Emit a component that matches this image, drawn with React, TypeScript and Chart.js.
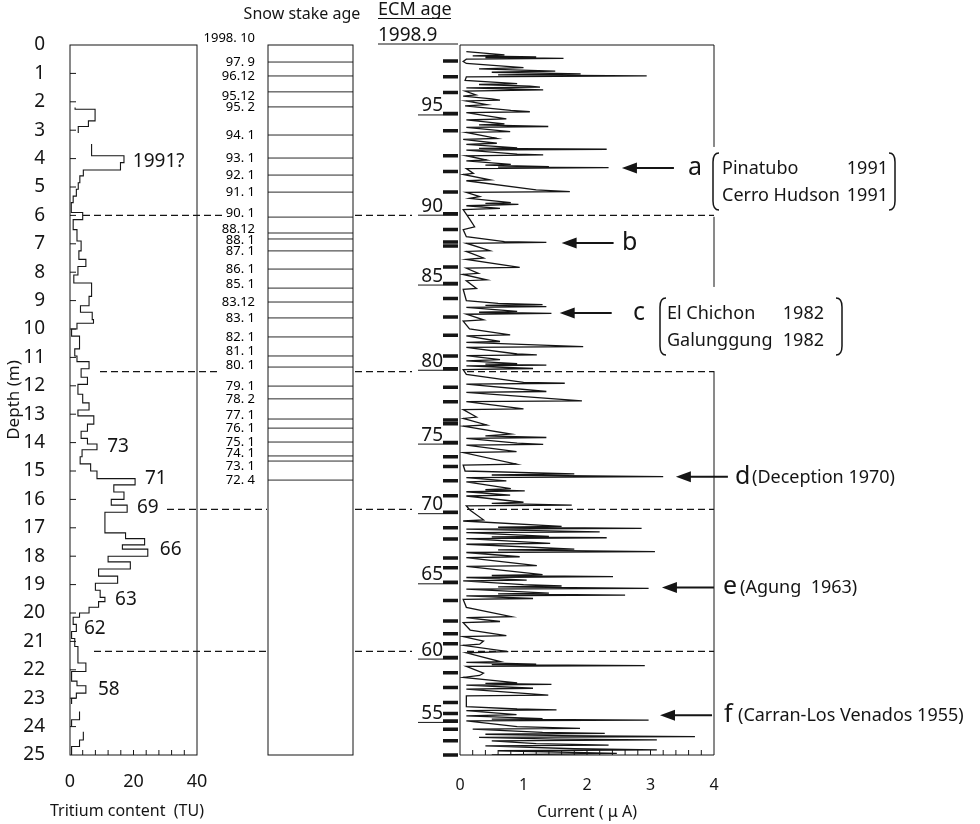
import React, { useEffect, useRef } from "react";
import { Chart, registerables } from "chart.js";
Chart.register(...registerables);

const FONT = '"Noto Sans", "DejaVu Sans", Arial, sans-serif';
const INK = "#151515";

// ---------------- data ----------------
// Tritium profile: depth intervals (m) and tritium content (TU)
const tritiumFrom = [
  2.2, 2.26, 2.67, 2.87,
  3.49, 3.9, 4.14, 4.4, 4.61, 4.85, 5.08, 5.32, 5.55, 5.9, 6.15, 6.5, 6.9, 7.25, 7.55, 7.8,
  8.1, 8.38, 8.85, 9.18, 9.41, 9.67, 9.8, 10.0, 10.25, 10.7, 10.95, 11.15, 11.4, 11.7, 11.95,
  12.3, 12.6, 12.85, 13.06, 13.35, 13.6, 13.85, 14.05, 14.25, 14.5, 14.75, 15.0, 15.27, 15.49,
  15.74, 16.0, 16.2, 16.45, 17.18, 17.38, 17.6, 17.75, 18.0, 18.2, 18.45, 18.7, 18.95, 19.2,
  19.45, 19.6, 19.8, 20.0, 20.15, 20.4, 20.65, 20.9, 21.18, 21.76, 22.06, 22.4, 22.56, 22.82, 23.0,
  23.47, 23.76,
  24.18, 24.47, 24.7,
];
const tritiumTo = [
  2.26, 2.67, 2.87, 3.1,
  3.9, 4.14, 4.4, 4.61, 4.85, 5.08, 5.32, 5.55, 5.9, 6.15, 6.5, 6.9, 7.25, 7.55, 7.8, 8.1,
  8.38, 8.85, 9.18, 9.41, 9.67, 9.8, 10.0, 10.25, 10.7, 10.95, 11.15, 11.4, 11.7, 11.95, 12.3,
  12.6, 12.85, 13.06, 13.35, 13.6, 13.85, 14.05, 14.25, 14.5, 14.75, 15.0, 15.27, 15.49, 15.74,
  16.0, 16.2, 16.45, 17.18, 17.38, 17.6, 17.75, 18.0, 18.2, 18.45, 18.7, 18.95, 19.2, 19.45,
  19.6, 19.8, 20.0, 20.15, 20.4, 20.65, 20.9, 21.18, 21.76, 22.06, 22.4, 22.56, 22.82, 23.0, 23.2,
  23.76, 24.0,
  24.47, 24.7, 25.0,
];
const tritiumTU = [
  1.6, 7.9, 5.8, 2.6,
  6.8, 17, 15.9, 4.2, 3.1, 2.6, 2.0, 1.0, 0.4, 4.0, 1.0, 2.2, 3.5, 2.8, 5.0, 2.5,
  1.2, 6.8, 6.0, 3.3, 7.0, 7.4, 2.2, 0.5, 3.0, 1.5, 2.2, 6.0, 3.5, 5.5, 2.5,
  4.0, 6.0, 2.5, 7.5, 5.5, 3.5, 5.5, 8.5, 3.8, 3.2, 6.5, 8.5, 20.5, 13.8,
  17, 13, 18, 11, 17.5, 23.5, 16.5, 24.5, 12, 19, 9, 15, 8, 9.5,
  11, 9, 6, 3, 1.0, 2.0, 0.5, 1.5, 2.5, 5.0, 0.5, 2.2, 5.0, 2.0, 0.5,
  3.0, 0.5,
  4.2, 3.0, 0.5,
];
const tritiumLabelText = ["1991?", "73", "71", "69", "66", "63", "62", "58"];
const tritiumLabelTU = [19.8, 11.7, 23.6, 21.1, 28.3, 14.2, 4.4, 8.8];
const tritiumLabelDepth = [4.12, 14.15, 15.28, 16.3, 17.75, 19.54, 20.56, 22.7];

// Snow stake ages and depths (m)
const stakeLabels = [
  "1998. 10", "97. 9", "96.12", "95.12", "95. 2", "94. 1", "93. 1", "92. 1", "91. 1", "90. 1",
  "88.12", "88. 1", "87. 1", "86. 1", "85. 1", "83.12", "83. 1", "82. 1", "81. 1", "80. 1",
  "79. 1", "78. 2", "77. 1", "76. 1", "75. 1", "74. 1", "73. 1", "72. 4",
];
const stakeDepth = [
  0, 0.6, 1.09, 1.65, 2.18, 3.17, 3.98, 4.58, 5.18, 6.06,
  6.62, 6.83, 7.25, 7.89, 8.56, 9.05, 9.61, 10.28, 10.95, 11.34,
  12.01, 12.46, 13.17, 13.49, 13.98, 14.47, 14.65, 15.32,
];

// ECM current profile: depth (m) and current (µA)
const ecmDepth = [
  0.23, 0.35, 0.38, 0.42, 0.44, 0.47, 0.5, 0.58, 0.65, 0.8,
  0.84, 0.92, 0.96, 1.02, 1.05, 1.09, 1.12, 1.25, 1.36, 1.39,
  1.45, 1.48, 1.51, 1.55, 1.58, 1.62, 1.76, 1.8, 1.9, 1.94,
  1.97, 2.1, 2.14, 2.3, 2.35, 2.38, 2.6, 2.64, 2.78, 2.81,
  2.87, 2.9, 3.05, 3.08, 3.29, 3.32, 3.46, 3.5, 3.62, 3.64,
  3.67, 3.7, 3.84, 3.87, 3.9, 4.05, 4.08, 4.2, 4.23, 4.28,
  4.3, 4.32, 4.35, 4.52, 4.56, 4.75, 4.78, 5.1, 5.16, 5.19,
  5.34, 5.4, 5.55, 5.58, 5.61, 5.66, 5.75, 5.8, 6.16, 6.4,
  6.5, 6.75, 6.92, 6.95, 6.98, 7.24, 7.27, 7.5, 7.55, 7.83,
  7.86, 8.04, 8.08, 8.27, 8.3, 8.57, 8.6, 9.0, 9.1, 9.14,
  9.17, 9.21, 9.24, 9.38, 9.41, 9.45, 9.48, 9.68, 9.72, 10.0,
  10.21, 10.24, 10.44, 10.47, 10.62, 10.65, 10.88, 10.91, 10.94, 11.08,
  11.12, 11.22, 11.24, 11.27, 11.3, 11.39, 11.43, 11.6, 11.88, 11.91,
  11.94, 12.2, 12.23, 12.53, 12.56, 12.81, 12.84, 13.1, 13.15, 13.38,
  13.42, 13.7, 13.76, 13.82, 13.85, 14.02, 14.06, 14.09, 14.32, 14.35,
  14.76, 14.79, 15.0, 15.1, 15.14, 15.2, 15.23, 15.35, 15.38, 15.62,
  15.66, 15.7, 15.73, 15.85, 15.88, 16.1, 16.14, 16.2, 16.23, 16.38,
  16.72, 16.76, 16.95, 16.98, 17.02, 17.05, 17.1, 17.14, 17.17, 17.3,
  17.32, 17.35, 17.38, 17.55, 17.58, 17.75, 17.78, 17.84, 17.87, 18.02,
  18.05, 18.33, 18.36, 18.65, 18.68, 18.72, 18.75, 18.84, 18.87, 19.0,
  19.05, 19.08, 19.13, 19.16, 19.3, 19.33, 19.37, 19.4, 19.49, 19.52,
  19.8, 20.13, 20.16, 20.3, 20.34, 20.6, 20.8, 20.83, 20.99, 21.1,
  21.14, 21.36, 21.4, 21.71, 21.74, 21.8, 21.82, 21.85, 21.88, 22.12,
  22.2, 22.27, 22.46, 22.48, 22.51, 22.54, 22.65, 22.68, 22.89, 22.92,
  23.3, 23.38, 23.41, 23.44, 23.58, 23.62, 23.72, 23.74, 23.77, 23.8,
  24.0, 24.06, 24.09, 24.2, 24.24, 24.27, 24.32, 24.35, 24.38, 24.44,
  24.47, 24.5, 24.6, 24.65, 24.68, 24.78, 24.82, 24.85, 24.94, 25.0,
];
const ecmCurrent = [
  0.1, 0.7, 0.2, 1.2, 0.4, 1.63, 0.1, 0.05, 0.1, 1.0,
  0.3, 1.5, 0.5, 1.9, 0.6, 2.94, 0.1, 0.08, 0.9, 0.3,
  1.1, 1.26, 0.1, 0.8, 1.31, 0.08, 0.25, 0.05, 0.5, 0.63,
  0.1, 0.42, 0.08, 0.8, 1.1, 0.1, 0.73, 0.1, 0.7, 0.3,
  1.39, 0.1, 0.79, 0.1, 0.58, 0.05, 0.58, 0.1, 0.9, 0.3,
  2.31, 0.1, 0.9, 1.31, 0.1, 0.42, 0.1, 0.8, 0.4, 1.4,
  0.6, 2.34, 0.1, 0.21, 0.05, 0.47, 0.1, 1.2, 1.73, 0.1,
  0.31, 0.15, 0.8, 0.4, 0.92, 0.1, 0.63, 0.05, 0.16, 0.23,
  0.05, 0.1, 0.7, 1.36, 0.1, 0.47, 0.1, 0.37, 0.1, 0.94,
  0.1, 0.29, 0.05, 0.42, 0.1, 0.26, 0.05, 0.1, 0.6, 1.3,
  0.4, 1.36, 0.1, 0.9, 0.3, 1.44, 0.1, 0.37, 0.05, 0.15,
  0.79, 0.1, 0.63, 0.1, 1.94, 0.1, 0.9, 1.21, 0.1, 0.63,
  0.1, 0.9, 0.4, 1.36, 0.1, 1.15, 0.05, 0.1, 1.0, 1.65,
  0.1, 1.36, 0.1, 1.92, 0.1, 1.0, 0.05, 0.26, 0.05, 0.42,
  0.05, 0.8, 0.4, 1.36, 0.1, 0.9, 1.31, 0.1, 0.89, 0.05,
  0.89, 0.05, 0.08, 1.8, 0.5, 3.2, 0.1, 0.73, 0.1, 0.8,
  0.4, 1.02, 0.1, 0.79, 0.1, 1.0, 0.5, 1.76, 0.1, 0.16,
  0.37, 0.05, 1.6, 0.6, 2.86, 0.1, 1.2, 2.2, 0.1, 1.4,
  0.5, 2.31, 0.1, 1.42, 0.1, 1.8, 0.6, 3.07, 0.1, 0.94,
  0.1, 1.21, 0.1, 1.3, 0.5, 2.41, 0.1, 1.05, 0.05, 1.0,
  1.6, 0.6, 2.97, 0.1, 1.4, 0.6, 2.6, 0.1, 1.15, 0.05,
  0.1, 0.81, 0.1, 0.63, 0.05, 0.16, 0.73, 0.05, 0.37, 0.31,
  0.05, 0.76, 0.1, 0.63, 0.1, 1.2, 0.5, 2.91, 0.1, 0.37,
  0.31, 0.05, 0.9, 0.4, 1.44, 0.1, 1.15, 0.1, 1.39, 0.1,
  0.1, 0.9, 1.52, 0.1, 0.89, 0.1, 1.3, 0.5, 2.97, 0.1,
  0.9, 1.89, 0.2, 1.3, 2.28, 0.4, 1.6, 3.7, 0.3, 1.5,
  3.1, 0.5, 1.2, 2.34, 0.4, 1.8, 3.1, 0.6, 2.47, 0.5,
];

// ECM annual layers (year, depth m)
const ecmYears = [
  98, 97, 96, 95, 94, 93, 92, 91, 90, 89, 88, 87, 86, 85, 84, 83, 82, 81, 80, 79,
  78, 77, 76, 75, 74, 73, 72, 71, 70, 69, 68, 67, 66, 65, 64, 63, 62, 61, 60, 59,
  58, 57, 56, 55, 54, 53, 52,
];
const ecmYearDepth = [
  0.56, 1.12, 1.67, 2.41, 3.02, 3.9, 4.45, 5.18, 5.94, 6.5, 6.94, 7.08, 7.82, 8.4, 8.93, 9.58,
  10.22, 10.95, 11.4, 12.05, 12.56, 13.2, 13.34, 14.0, 14.5, 14.84, 15.34, 15.87, 16.45, 17.0,
  17.39, 18.06, 18.41, 18.92, 19.56, 20.28, 20.73, 21.08, 21.57, 22.1, 22.62, 23.15, 23.54,
  23.8, 24.09, 24.5, 25.0,
];

// Correlation (dashed) depths, m
const markerDepth = [6.0, 11.5, 16.35, 21.35];

// Volcanic events
const eventLetter = ["a", "b", "c", "d", "e", "f"];
const eventDepth = [4.33, 6.97, 9.44, 15.2, 19.1, 23.6];
const eventTip = [2.55, 1.6, 1.57, 3.4, 3.18, 3.15];
const eventNote = ["", "", "", "(Deception 1970)", "(Agung  1963)", "(Carran-Los Venados 1955)"];
const eventNamesA = ["Pinatubo", "Cerro Hudson"];
const eventYearsA = ["1991", "1991"];
const eventNamesC = ["El Chichon", "Galunggung"];
const eventYearsC = ["1982", "1982"];

// ---------------- layout constants ----------------
const W = 980;
const H = 824;
const TOP = 45;
const BOTTOM = 755;

const f = (size: number) => `${size}px ${FONT}`;

function tritiumPoints() {
  const pts: any[] = [];
  for (let i = 0; i < tritiumFrom.length; i++) {
    if (i > 0 && Math.abs(tritiumFrom[i] - tritiumTo[i - 1]) > 1e-6) {
      pts.push({ x: tritiumTU[i - 1], y: tritiumTo[i - 1] });
      pts.push({ x: null, y: null });
    }
    pts.push({ x: tritiumTU[i], y: tritiumFrom[i] });
  }
  const n = tritiumFrom.length - 1;
  pts.push({ x: tritiumTU[n], y: tritiumTo[n] });
  return pts;
}

function stakePoints() {
  const pts: any[] = [];
  stakeDepth.forEach((d, i) => {
    if (i === 0) return;
    pts.push({ x: 0, y: d }, { x: 1, y: d }, { x: null, y: null });
  });
  return pts;
}

function dashed(ctx: CanvasRenderingContext2D, x0: number, x1: number, y: number) {
  ctx.beginPath();
  ctx.moveTo(x0, y);
  ctx.lineTo(x1, y);
  ctx.stroke();
}

const tritiumDecor = {
  id: "tritiumDecor",
  afterDraw(chart: any) {
    const { ctx, chartArea: ca } = chart;
    const x = chart.scales.x;
    const y = chart.scales.y;
    ctx.save();
    ctx.strokeStyle = INK;
    ctx.lineWidth = 1;
    ctx.strokeRect(ca.left, ca.top, ca.right - ca.left, ca.bottom - ca.top);
    ctx.beginPath();
    for (let d = 1; d < 25; d++) {
      const py = y.getPixelForValue(d);
      ctx.moveTo(ca.left, py);
      ctx.lineTo(ca.left + 6, py);
    }
    for (let v = 4; v < 40; v += 4) {
      const px = x.getPixelForValue(v);
      ctx.moveTo(px, ca.bottom);
      ctx.lineTo(px, ca.bottom - 5);
    }
    ctx.stroke();
    ctx.fillStyle = INK;
    ctx.font = f(19);
    ctx.textAlign = "left";
    ctx.textBaseline = "middle";
    tritiumLabelText.forEach((t, i) => {
      ctx.fillText(t, x.getPixelForValue(tritiumLabelTU[i]), y.getPixelForValue(tritiumLabelDepth[i]));
    });
    // axis title (drawn here so it is not squeezed to the narrow axis width)
    ctx.font = f(16);
    ctx.textAlign = "center";
    ctx.fillText("Tritium content  (TU)", 127, 811);
    // dashed correlation lines (left part)
    const starts = [83, 100, 167, 94];
    const ends = [222, 218, 267, 267];
    ctx.setLineDash([7, 4]);
    ctx.lineWidth = 1.3;
    markerDepth.forEach((d, i) => dashed(ctx, starts[i], ends[i], y.getPixelForValue(d)));
    ctx.restore();
  },
};

const STAKE_NUDGE: Record<number, number> = {
  0: -7, 3: 4, 9: -4, 10: -4, 11: 1, 14: -4, 18: -5, 19: -2, 22: -4, 25: -3, 26: 5,
};

const stakeDecor = {
  id: "stakeDecor",
  afterDraw(chart: any) {
    const { ctx, chartArea: ca } = chart;
    const y = chart.scales.y;
    ctx.save();
    ctx.strokeStyle = INK;
    ctx.lineWidth = 1;
    ctx.strokeRect(ca.left, ca.top, ca.right - ca.left, ca.bottom - ca.top);
    ctx.fillStyle = "#000";
    ctx.font = f(13);
    ctx.textAlign = "right";
    ctx.textBaseline = "middle";
    stakeLabels.forEach((t, i) => {
      const py = y.getPixelForValue(stakeDepth[i]) + (STAKE_NUDGE[i] || 0);
      ctx.fillText(t, ca.left - 13, py);
    });
    ctx.fillStyle = INK;
    ctx.font = f(16);
    ctx.textAlign = "center";
    ctx.textBaseline = "alphabetic";
    ctx.fillText("Snow stake age", 302, 19);
    ctx.restore();
  },
};

function bracket(ctx: CanvasRenderingContext2D, x: number, top: number, bottom: number, dir: number) {
  ctx.beginPath();
  ctx.moveTo(x + 6 * dir, top);
  ctx.quadraticCurveTo(x, top, x, top + 9);
  ctx.lineTo(x, bottom - 9);
  ctx.quadraticCurveTo(x, bottom, x + 6 * dir, bottom);
  ctx.stroke();
}

const ecmDecor = {
  id: "ecmDecor",
  afterDraw(chart: any) {
    const { ctx, chartArea: ca } = chart;
    const x = chart.scales.x;
    const y = chart.scales.y;
    ctx.save();
    ctx.strokeStyle = INK;
    ctx.fillStyle = INK;
    ctx.lineWidth = 1;
    // frame with gaps on right side
    ctx.beginPath();
    ctx.moveTo(ca.right, ca.top);
    ctx.lineTo(ca.left, ca.top);
    ctx.lineTo(ca.left, ca.bottom);
    ctx.lineTo(ca.right, ca.bottom);
    const gaps = [
      [3.59, 6.05],
      [8.52, 11.48],
    ];
    ctx.moveTo(ca.right, ca.bottom);
    for (let g = gaps.length - 1; g >= 0; g--) {
      ctx.lineTo(ca.right, y.getPixelForValue(gaps[g][1]));
      ctx.moveTo(ca.right, y.getPixelForValue(gaps[g][0]));
    }
    ctx.lineTo(ca.right, ca.top);
    ctx.stroke();
    // inner bottom ticks
    ctx.beginPath();
    for (let i = 1; i < 20; i++) {
      const px = x.getPixelForValue(i * 0.2);
      ctx.moveTo(px, ca.bottom);
      ctx.lineTo(px, ca.bottom - 5);
    }
    ctx.stroke();
    // ECM age ticks
    ctx.lineWidth = 3.5;
    ctx.beginPath();
    ecmYearDepth.forEach((d) => {
      const py = y.getPixelForValue(d);
      ctx.moveTo(ca.left - 17, py);
      ctx.lineTo(ca.left - 2, py);
    });
    ctx.stroke();
    ctx.lineWidth = 1;
    ctx.font = f(19);
    ctx.textAlign = "right";
    ctx.textBaseline = "alphabetic";
    ecmYears.forEach((yr, i) => {
      if (yr % 5 !== 0) return;
      const py = y.getPixelForValue(ecmYearDepth[i]);
      ctx.fillText(String(yr), ca.left - 17, py - 2);
      ctx.beginPath();
      ctx.moveTo(ca.left - 42, py + 1.5);
      ctx.lineTo(ca.left - 2, py + 1.5);
      ctx.stroke();
    });
    // headers
    ctx.textAlign = "left";
    ctx.font = f(18);
    ctx.fillText("ECM age", 378, 15);
    ctx.beginPath();
    ctx.moveTo(378, 18.5);
    ctx.lineTo(451, 18.5);
    ctx.stroke();
    ctx.font = f(19);
    ctx.fillText("1998.9", 378, ca.top - 4);
    ctx.beginPath();
    ctx.moveTo(378, ca.top - 1);
    ctx.lineTo(ca.left - 2, ca.top - 1);
    ctx.stroke();
    // dashed correlation lines (right part)
    ctx.setLineDash([7, 4]);
    ctx.lineWidth = 1.3;
    markerDepth.forEach((d) => {
      const py = y.getPixelForValue(d);
      dashed(ctx, 355, 412, py);
      dashed(ctx, 467, ca.right, py);
    });
    ctx.setLineDash([]);
    // arrows
    const tailLen = 50;
    const letterX = [688, 622, 633, 735, 723, 724];
    const noteX = [0, 0, 0, 752, 740, 738];
    eventLetter.forEach((L, i) => {
      const py = y.getPixelForValue(eventDepth[i]);
      const tip = x.getPixelForValue(eventTip[i]);
      ctx.lineWidth = 2;
      ctx.beginPath();
      ctx.moveTo(tip + 10, py);
      ctx.lineTo(tip + tailLen + 2, py);
      ctx.stroke();
      ctx.beginPath();
      ctx.moveTo(tip, py);
      ctx.lineTo(tip + 15, py - 5.5);
      ctx.lineTo(tip + 15, py + 5.5);
      ctx.closePath();
      ctx.fill();
      ctx.font = f(25);
      ctx.textAlign = "left";
      ctx.textBaseline = "alphabetic";
      ctx.fillText(L, letterX[i], py + 7);
      if (eventNote[i]) {
        ctx.font = f(18);
        ctx.fillText(eventNote[i], noteX[i], py + 6);
      }
    });
    // bracketed groups
    ctx.lineWidth = 1.5;
    ctx.font = f(18);
    const yA = y.getPixelForValue(eventDepth[0]);
    bracket(ctx, 713, yA - 15, yA + 42, 1);
    bracket(ctx, 895, yA - 15, yA + 42, -1);
    eventNamesA.forEach((n, k) => {
      ctx.textAlign = "left";
      ctx.fillText(n, 722, yA + 6 + k * 27);
      ctx.textAlign = "right";
      ctx.fillText(eventYearsA[k], 888, yA + 6 + k * 27);
    });
    const yC = y.getPixelForValue(eventDepth[2]);
    bracket(ctx, 660, yC - 15, yC + 42, 1);
    bracket(ctx, 842, yC - 15, yC + 42, -1);
    eventNamesC.forEach((n, k) => {
      ctx.textAlign = "left";
      ctx.fillText(n, 667, yC + 6 + k * 27);
      ctx.textAlign = "right";
      ctx.fillText(eventYearsC[k], 824, yC + 6 + k * 27);
    });
    ctx.restore();
  },
};

const baseOptions = (padding: any) => ({
  responsive: false,
  maintainAspectRatio: false,
  animation: false as const,
  events: [] as any[],
  layout: { padding },
  plugins: { legend: { display: false }, tooltip: { enabled: false }, title: { display: false } },
});

export default function App() {
  const refA = useRef<HTMLCanvasElement>(null);
  const refB = useRef<HTMLCanvasElement>(null);
  const refC = useRef<HTMLCanvasElement>(null);

  useEffect(() => {
    Chart.defaults.font.family = FONT;
    Chart.defaults.color = INK;

    const chartA = new Chart(refA.current as HTMLCanvasElement, {
      type: "line",
      data: {
        datasets: [
          {
            data: tritiumPoints(),
            borderColor: INK,
            borderWidth: 1.1,
            pointRadius: 0,
            stepped: "after",
            fill: false,
            spanGaps: false,
          } as any,
        ],
      },
      options: {
        ...baseOptions({ left: 0, top: TOP, right: W - 197, bottom: 0 }),
        scales: {
          x: {
            type: "linear",
            position: "bottom",
            min: 0,
            max: 40,
            afterFit: (s: any) => {
              s.height = H - BOTTOM;
            },
            grid: { display: false, drawTicks: false },
            border: { display: false },
            ticks: { stepSize: 20, padding: 16, font: { size: 18 }, color: INK },
            title: { display: false },
          },
          y: {
            type: "linear",
            position: "left",
            min: 0,
            max: 25,
            reverse: true,
            afterFit: (s: any) => {
              s.width = 70;
            },
            grid: { display: false, drawTicks: false },
            border: { display: false },
            ticks: { stepSize: 1, padding: 25, autoSkip: false, font: { size: 19 }, color: INK },
            title: {
              display: true,
              text: "Depth (m)",
              font: { size: 17 },
              color: INK,
              padding: { top: 4, bottom: 0 },
            },
          },
        },
      } as any,
      plugins: [tritiumDecor],
    });

    const chartB = new Chart(refB.current as HTMLCanvasElement, {
      type: "line",
      data: {
        datasets: [
          {
            data: stakePoints(),
            borderColor: "#2a2a2a",
            borderWidth: 1,
            pointRadius: 0,
            fill: false,
            spanGaps: false,
          } as any,
        ],
      },
      options: {
        ...baseOptions({ left: 268, top: TOP, right: W - 353, bottom: H - BOTTOM }),
        scales: {
          x: { type: "linear", min: 0, max: 1, display: false },
          y: { type: "linear", min: 0, max: 25, reverse: true, display: false },
        },
      } as any,
      plugins: [stakeDecor],
    });

    const chartC = new Chart(refC.current as HTMLCanvasElement, {
      type: "line",
      data: {
        datasets: [
          {
            data: ecmDepth.map((d, i) => ({ x: ecmCurrent[i], y: d })),
            borderColor: INK,
            borderWidth: 1.3,
            pointRadius: 0,
            fill: false,
            tension: 0,
          } as any,
        ],
      },
      options: {
        ...baseOptions({ left: 460, top: TOP, right: W - 714, bottom: 0 }),
        scales: {
          x: {
            type: "linear",
            position: "bottom",
            min: 0,
            max: 4,
            afterFit: (s: any) => {
              s.height = H - BOTTOM;
            },
            grid: { display: false, drawTicks: false },
            border: { display: false },
            ticks: { stepSize: 1, padding: 21, font: { size: 16 }, color: INK },
            title: {
              display: true,
              text: "Current ( \u03bc A)",
              font: { size: 16 },
              color: INK,
              padding: { top: 0, bottom: 2 },
            },
          },
          y: { type: "linear", min: 0, max: 25, reverse: true, display: false },
        },
      } as any,
      plugins: [ecmDecor],
    });

    return () => {
      chartA.destroy();
      chartB.destroy();
      chartC.destroy();
    };
  }, []);

  const cs: React.CSSProperties = { position: "absolute", left: 0, top: 0, width: W, height: H };
  return (
    <div style={{ position: "fixed", left: 0, top: 0, width: W, height: H, background: "#fff" }}>
      <canvas ref={refA} width={W} height={H} style={cs} />
      <canvas ref={refB} width={W} height={H} style={cs} />
      <canvas ref={refC} width={W} height={H} style={cs} />
    </div>
  );
}
